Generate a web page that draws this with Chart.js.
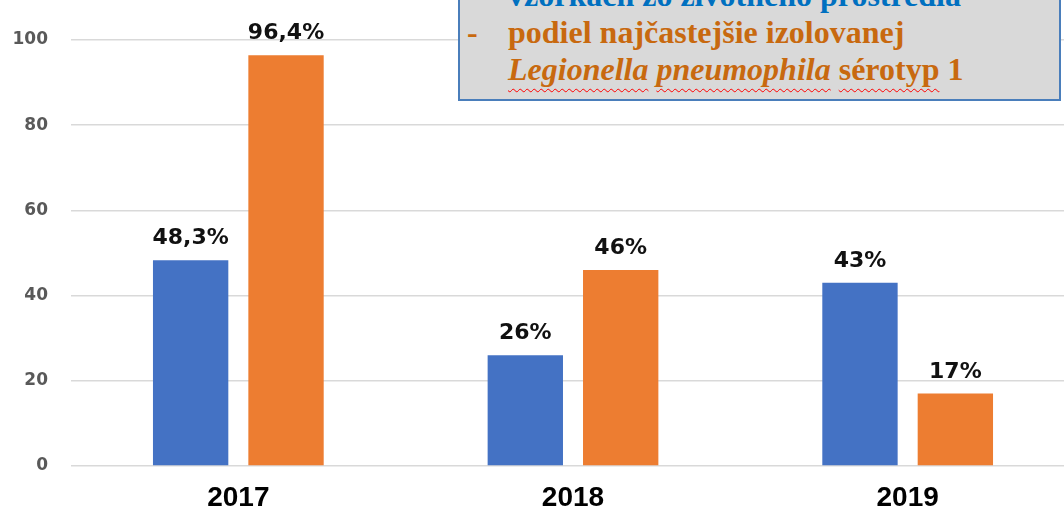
<!DOCTYPE html>
<html lang="sk">

<head>
  <meta charset="UTF-8" />
  <meta name="viewport" content="width=device-width, initial-scale=1.0" />
  <title>Legionella</title>
  <style>
    * {
      margin: 0;
      padding: 0;
    }

    body {
      width: 1064px;
      height: 512px;
      overflow: hidden;
      background: #ffffff;
      position: relative;
    }

    .chartBox {
      position: absolute;
      left: 0;
      top: 0;
      width: 1075px;
      height: 512px;
    }

    .noteBox {
      position: absolute;
      left: 458px;
      top: -40px;
      width: 603px;
      height: 141px;
      box-sizing: border-box;
      background: #d9d9d9;
      border: 2px solid #4a7ebb;
    }

    .noteLine {
      position: absolute;
      left: 508px;
      font-family: "Liberation Serif", "DejaVu Serif", serif;
      font-weight: bold;
      font-size: 32px;
      line-height: 1;
      white-space: nowrap;
    }

    .blue {
      color: #0070c0;
    }

    .orange {
      color: #c8690f;
    }

    .squiggle {
      text-decoration: underline wavy #ff0000;
      text-decoration-thickness: 1px;
      text-underline-offset: 8px;
      text-decoration-skip-ink: none;
    }
  </style>
</head>

<body>
  <div class="chartBox">
    <canvas id="myChart"></canvas>
  </div>

  <div class="noteBox"></div>
  <div class="noteLine blue" style="top: -21px;">vzorkách zo životného prostredia</div>
  <div class="noteLine orange" style="top: 16px; left: 467px;">-</div>
  <div class="noteLine orange" style="top: 16px;">podiel najčastejšie izolovanej</div>
  <div class="noteLine orange" style="top: 53px;"><i class="squiggle">Legionella</i> <i class="squiggle">pneumophila</i> <span class="squiggle">sérotyp</span> 1</div>

  <script src="https://cdn.jsdelivr.net/npm/chart.js@4.4.0/dist/chart.umd.min.js"></script>
  <script>
    const years = ["2017", "2018", "2019"];
    const positiveShare = [48.3, 26, 43];
    const lp1Share = [96.4, 46, 17];
    const yTicks = [0, 20, 40, 60, 80, 100];

    // value labels above each bar, slovak decimal comma
    const barLabels = {
      id: "barLabels",
      afterDatasetsDraw(chart) {
        const ctx = chart.ctx;
        ctx.save();
        ctx.font = "bold 22px 'DejaVu Sans', sans-serif";
        ctx.fillStyle = "#111111";
        ctx.textAlign = "center";
        ctx.textBaseline = "alphabetic";
        chart.data.datasets.forEach((ds, i) => {
          chart.getDatasetMeta(i).data.forEach((bar, j) => {
            const txt = String(ds.data[j]).replace(".", ",") + "%";
            ctx.fillText(txt, bar.x, bar.y - 16);
          });
        });
        ctx.restore();
      },
    };

    const data = {
      labels: years,
      datasets: [
        {
          label: "vzorkách zo životného prostredia",
          data: positiveShare,
          backgroundColor: "#4472c4",
          borderWidth: 0,
        },
        {
          label: "podiel najčastejšie izolovanej Legionella pneumophila sérotyp 1",
          data: lp1Share,
          backgroundColor: "#ed7d31",
          borderWidth: 0,
        },
      ],
    };

    const options = {
      responsive: true,
      maintainAspectRatio: false,
      animation: false,
      layout: {
        padding: { top: 40, left: 0, right: 0, bottom: 0 },
      },
      datasets: {
        bar: {
          categoryPercentage: 0.57,
          barPercentage: 0.79,
        },
      },
      scales: {
        x: {
          afterFit(scale) {
            scale.height = 46;
          },
          grid: { display: false, drawTicks: false },
          border: { display: false },
          ticks: {
            color: "#000000",
            padding: 15,
            font: { size: 28, weight: "bold", family: "'Liberation Sans', Arial, sans-serif" },
          },
        },
        y: {
          min: 0,
          max: 100,
          afterBuildTicks(scale) {
            scale.ticks = yTicks.map((v) => ({ value: v }));
          },
          afterFit(scale) {
            scale.width = 71;
          },
          grid: { color: "#d9d9d9", lineWidth: 1.5, drawTicks: false },
          border: { display: false },
          ticks: {
            color: "#595959",
            padding: 23,
            font: { size: 17, weight: "bold", family: "'DejaVu Sans', sans-serif" },
          },
        },
      },
      plugins: {
        legend: { display: false },
        tooltip: { enabled: false },
      },
    };

    const config = {
      type: "bar",
      data: data,
      options: options,
      plugins: [barLabels],
    };

    const ctx = document.getElementById("myChart").getContext("2d");
    const myChart = new Chart(ctx, config);
  </script>
</body>

</html>
